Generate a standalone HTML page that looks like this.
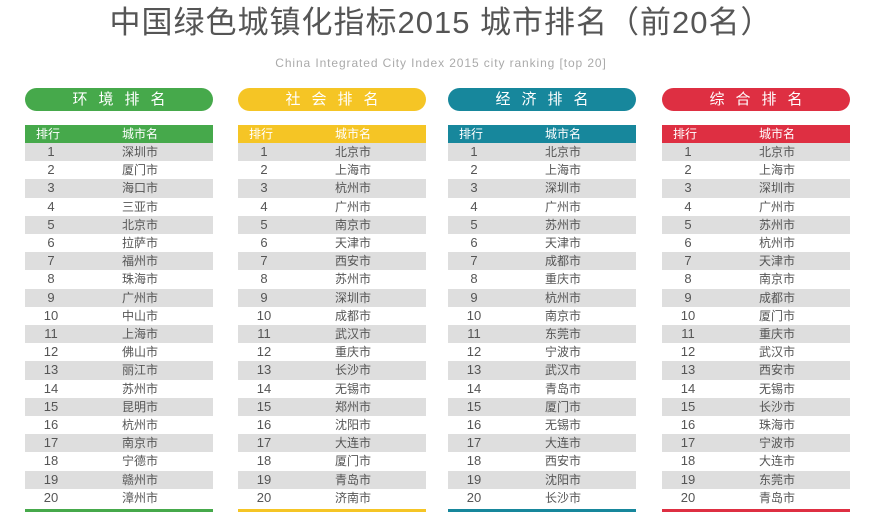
<!DOCTYPE html>
<html><head><meta charset="utf-8"><style>
body{margin:0;width:882px;height:526px;background:#fff;position:relative;overflow:hidden;font-family:"Liberation Sans","Noto Sans CJK SC",sans-serif}
.title{position:absolute;left:0;width:882px;top:-3px;text-align:center;font-size:31px;color:#555;letter-spacing:1px;white-space:nowrap}
.sub{position:absolute;left:0;width:882px;top:56px;text-align:center;font-size:12px;color:#aaa;letter-spacing:0.9px}
.t{position:absolute;top:88px;width:188px}
.pill{height:23px;border-radius:12px;color:#fff;text-align:center;font-size:15px;line-height:23px;letter-spacing:11px;text-indent:11px}
.hd{position:absolute;top:37px;left:0;width:188px;height:18px;color:#fff;font-size:12px;line-height:18px}
.r{position:absolute;left:0;width:188px;height:18.2px;font-size:12px;line-height:18px;color:#555}
.r.g{background:#dedede}
.n{position:absolute;left:14px;width:24px;text-align:center;font-size:13px}
.c{position:absolute;left:85px;width:60px;text-align:center}
.hd .n{left:8px;width:30px;font-size:12px}
.bar{position:absolute;top:421px;left:0;width:188px;height:3px}
</style></head><body>
<div class="title">中国绿色城镇化指标2015 城市排名（前20名）</div>
<div class="sub">China Integrated City Index 2015 city ranking [top 20]</div>
<div id="c"></div>
<script>
const T=[
[25,"#46a94b","环境排名","深圳市 厦门市 海口市 三亚市 北京市 拉萨市 福州市 珠海市 广州市 中山市 上海市 佛山市 丽江市 苏州市 昆明市 杭州市 南京市 宁德市 赣州市 漳州市"],
[238,"#f5c525","社会排名","北京市 上海市 杭州市 广州市 南京市 天津市 西安市 苏州市 深圳市 成都市 武汉市 重庆市 长沙市 无锡市 郑州市 沈阳市 大连市 厦门市 青岛市 济南市"],
[448,"#17879c","经济排名","北京市 上海市 深圳市 广州市 苏州市 天津市 成都市 重庆市 杭州市 南京市 东莞市 宁波市 武汉市 青岛市 厦门市 无锡市 大连市 西安市 沈阳市 长沙市"],
[662,"#de2f42","综合排名","北京市 上海市 深圳市 广州市 苏州市 杭州市 天津市 南京市 成都市 厦门市 重庆市 武汉市 西安市 无锡市 长沙市 珠海市 宁波市 大连市 东莞市 青岛市"]];
let h="";
for(const [x,col,name,cities] of T){
 h+=`<div class="t" style="left:${x}px"><div class="pill" style="background:${col}">${name}</div>`;
 h+=`<div class="hd" style="background:${col}"><span class="n">排行</span><span class="c">城市名</span></div>`;
 cities.split(" ").forEach((c,i)=>{h+=`<div class="r${i%2==0?' g':''}" style="top:${55+i*18.2}px"><span class="n">${i+1}</span><span class="c">${c}</span></div>`;});
 h+=`<div class="bar" style="background:${col}"></div></div>`;
}
document.getElementById("c").innerHTML=h;
</script>
</body></html>
